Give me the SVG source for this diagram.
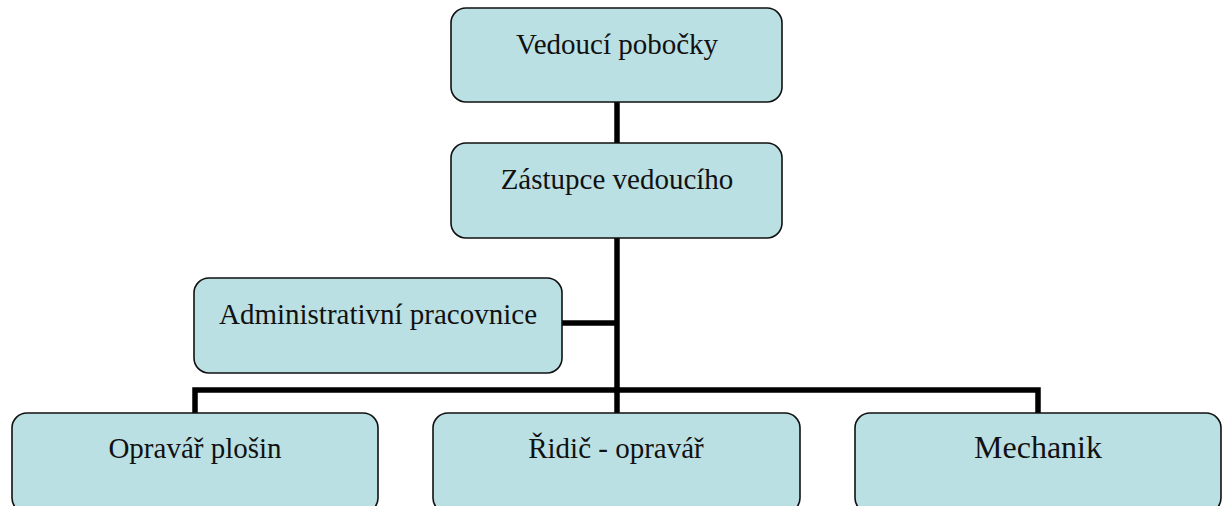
<svg xmlns="http://www.w3.org/2000/svg" width="1228" height="506" viewBox="0 0 1228 506">
<style>
.box{fill:#BBE0E3;stroke:#111;stroke-width:1.6}
.t{font-family:"Liberation Serif","Times New Roman",serif;font-size:29px;fill:#111;text-anchor:middle}
.c{stroke:#000;stroke-width:5.5;fill:none}
</style>
<rect width="1228" height="506" fill="#fff"/>
<g id="connectors">
<line class="c" x1="617" y1="102" x2="617" y2="143"/>
<line class="c" x1="617" y1="238" x2="617" y2="392"/>
<line class="c" x1="562" y1="323" x2="617" y2="323"/>
<polyline class="c" points="195,413 195,390 1038,390 1038,413"/>
<line class="c" x1="617" y1="390" x2="617" y2="413"/>
</g>
<g id="vedouci">
<rect class="box" x="451" y="8" width="331" height="94" rx="15"/>
<text class="t" x="617" y="54">Vedoucí pobočky</text>
</g>
<g id="zastupce">
<rect class="box" x="451" y="143" width="331" height="95" rx="15"/>
<text class="t" x="617" y="189">Zástupce vedoucího</text>
</g>
<g id="admin">
<rect class="box" x="194" y="278" width="368" height="95" rx="15"/>
<text class="t" x="378" y="324">Administrativní pracovnice</text>
</g>
<g id="opravar">
<rect class="box" x="12" y="413" width="366" height="100" rx="15"/>
<text class="t" x="195" y="458">Opravář plošin</text>
</g>
<g id="ridic">
<rect class="box" x="433" y="413" width="367" height="100" rx="15"/>
<text class="t" x="616" y="458">Řidič - opravář</text>
</g>
<g id="mechanik">
<rect class="box" x="855" y="413" width="366" height="100" rx="15"/>
<text class="t" x="1038" y="458" style="font-size:32px">Mechanik</text>
</g>
</svg>
